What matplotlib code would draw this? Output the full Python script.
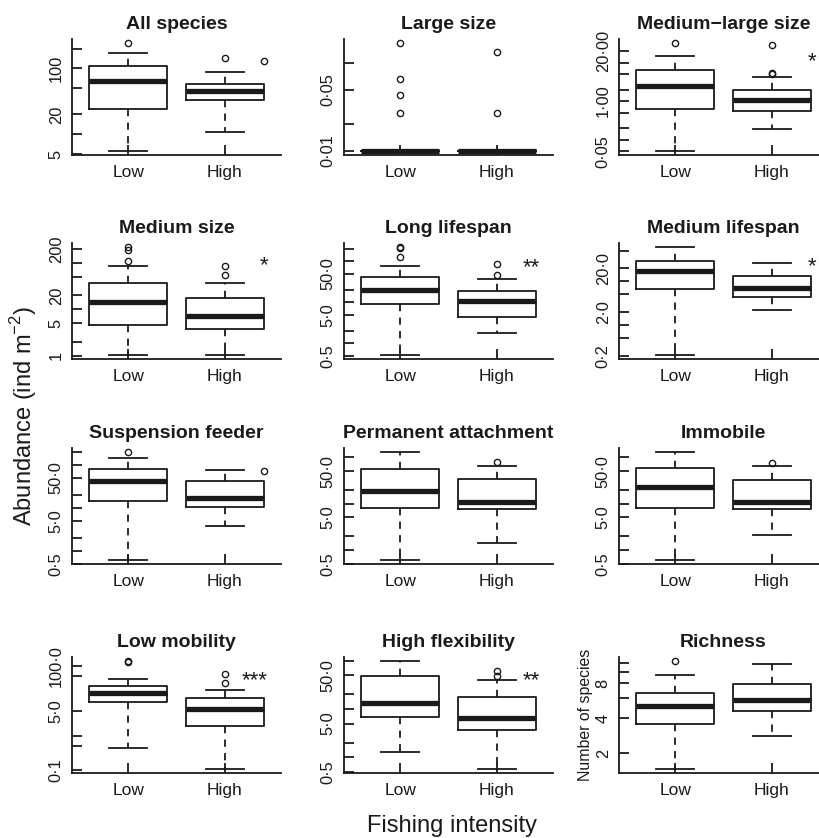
import matplotlib
matplotlib.use('Agg')
import matplotlib.pyplot as plt
import numpy as np

plt.rcParams['font.family'] = ['Liberation Sans', 'DejaVu Sans']

groups = ['Low', 'High']
titles = ['All species', 'Large size', 'Medium\u2212large size',
          'Medium size', 'Long lifespan', 'Medium lifespan',
          'Suspension feeder', 'Permanent attachment', 'Immobile',
          'Low mobility', 'High flexibility', 'Richness']

# five-number summaries: [lower whisker, Q1, median, Q3, upper whisker]
low_stats = [
    [5.6, 24.3, 63.5, 107, 170],
    [0.01, 0.01, 0.01, 0.01, 0.01],
    [0.0515, 0.635, 2.53, 6.54, 15.3],
    [1.05, 4.48, 14.6, 37.2, 86.9],
    [0.53, 9.18, 19.9, 41.6, 76.4],
    [0.21, 6.81, 17.4, 28.3, 59.7],
    [0.62, 14.5, 41.9, 80.7, 142],
    [0.61, 8.05, 18.3, 55.2, 128],
    [0.61, 8.05, 22.7, 58.0, 128],
    [0.444, 9.36, 16.6, 26.8, 41.6],
    [1.30, 6.8, 13.4, 49.2, 96.8],
    [1.47, 3.55, 5.14, 6.67, 9.54],
]
high_stats = [
    [10.6, 32.5, 44.9, 58.6, 86.7],
    [0.01, 0.01, 0.01, 0.01, 0.01],
    [0.186, 0.553, 1.04, 2.0, 4.15],
    [1.05, 3.79, 7.14, 17.9, 36.6],
    [1.75, 4.39, 10.8, 18.5, 37.9],
    [2.2, 4.26, 6.93, 12.9, 26.4],
    [3.77, 10.5, 17.0, 41.1, 73.8],
    [1.39, 7.8, 10.7, 33.1, 66.1],
    [2.09, 7.8, 10.8, 32.6, 64.0],
    [0.112, 1.85, 5.65, 11.9, 20.6],
    [0.585, 3.74, 6.58, 18.0, 40.7],
    [2.82, 4.66, 5.70, 7.9, 11.7],
]
low_fliers = [
    [240], [0.169, 0.0666, 0.0431, 0.0267], [31.8], [110, 193, 217],
    [128, 210, 220], [], [195], [], [], [133, 136], [], [12.4],
]
high_fliers = [
    [146], [0.136, 0.0272], [5.16, 5.3, 28.8], [55.4, 84.1],
    [46.5, 88.5], [], [], [78], [75.4], [33.4, 57.8], [49.2, 60.4], [],
]

yticks = [
    [5, 10, 20, 50, 100, 200],
    [0.01, 0.02, 0.05, 0.1],
    [0.05, 0.1, 0.2, 0.5, 1, 2, 5, 10, 20],
    [1, 2, 5, 10, 20, 50, 100, 200],
    [0.5, 1, 2, 5, 10, 20, 50, 100, 200],
    [0.2, 0.5, 1, 2, 5, 10, 20, 50],
    [0.5, 1, 2, 5, 10, 20, 50, 100, 200],
    [0.5, 1, 2, 5, 10, 20, 50, 100],
    [0.5, 1, 2, 5, 10, 20, 50, 100],
    [0.1, 0.5, 1, 5, 50, 100],
    [0.5, 1, 2, 5, 10, 20, 50, 100],
    [2, 4, 6, 8, 10, 12],
]
yticklabels = [
    ['5', '', '20', '', '100', ''],
    ['0\u00b701', '', '0\u00b705', ''],
    ['0\u00b705', '', '', '', '1\u00b700', '', '', '', '20\u00b700'],
    ['1', '', '5', '', '20', '', '', '200'],
    ['0\u00b75', '', '', '5\u00b70', '', '', '50\u00b70', '', ''],
    ['0\u00b72', '', '', '2\u00b70', '', '', '20\u00b70', ''],
    ['0\u00b75', '', '', '5\u00b70', '', '', '50\u00b70', '', ''],
    ['0\u00b75', '', '', '5\u00b70', '', '', '50\u00b70', ''],
    ['0\u00b75', '', '', '5\u00b70', '', '', '50\u00b70', ''],
    ['0\u00b71', '', '', '5\u00b70', '', '100\u00b70'],
    ['0\u00b75', '', '', '5\u00b70', '', '', '50\u00b70', ''],
    ['2', '4', '', '8', '', ''],
]
signif = ['', '', '*', '*', '**', '*', '', '', '', '***', '**', '']
signif_x = [None, None, 2.41, 2.405, 2.36, 2.41, None, None, None, 2.31, 2.36, None]
signif_y = [None, None, 10.3, 86.9, 69.7, 21.8, None, None, None, 38.9, 38.9, None]
marginal_y = [127, None, None, None, None, None, 71.3, None, None, None, None, None]

W, H = 819, 838
lefts = [72, 344, 619]
tops = [39, 243, 448, 657]
aw, ah = 209, 116

fig = plt.figure(figsize=(W / 100, H / 100), dpi=100)
col = '#1a1a1a'
lw = 1.3

for i in range(12):
    r, c = divmod(i, 3)
    ax = fig.add_axes([lefts[c] / W, 1 - (tops[r] + ah) / H, aw / W, ah / H])
    stats = []
    for g, s, f in zip(groups, [low_stats[i], high_stats[i]], [low_fliers[i], high_fliers[i]]):
        stats.append(dict(label=g, whislo=s[0], q1=s[1], med=s[2], q3=s[3], whishi=s[4], fliers=f))
    ax.bxp(stats, positions=[1, 2], widths=0.8, capwidths=0.4, showfliers=True,
           boxprops=dict(color=col, linewidth=lw),
           whiskerprops=dict(color=col, linewidth=lw, linestyle=(0, (4, 3.5))),
           capprops=dict(color=col, linewidth=lw),
           medianprops=dict(color=col, linewidth=3.8, solid_capstyle='butt'),
           flierprops=dict(marker='o', markerfacecolor='none', markeredgecolor=col,
                           markersize=4.5, markeredgewidth=1.0))
    ax.set_yscale('log')
    vals = np.array(low_stats[i] + high_stats[i] + low_fliers[i] + high_fliers[i], float)
    lo, hi = np.log10(vals.min()), np.log10(vals.max())
    pad = 0.04 * (hi - lo)
    ax.set_ylim(10 ** (lo - pad), 10 ** (hi + pad))
    ax.set_xlim(0.42, 2.58)
    ax.yaxis.set_minor_locator(matplotlib.ticker.NullLocator())
    ax.set_yticks(yticks[i])
    ax.set_yticklabels(yticklabels[i], rotation=90, va='center', fontsize=11.8)
    ax.set_xticks([1, 2])
    ax.set_xticklabels(groups, fontsize=12.5)
    ax.tick_params(axis='both', direction='in', length=7, width=lw, color=col, labelcolor=col)
    ax.tick_params(axis='y', pad=6)
    ax.tick_params(axis='x', pad=7)
    for sp in ['top', 'right']:
        ax.spines[sp].set_visible(False)
    for sp in ['left', 'bottom']:
        ax.spines[sp].set_linewidth(lw)
        ax.spines[sp].set_color(col)
    ax.set_title(titles[i], fontsize=14, fontweight='bold', color=col, pad=7)
    if signif[i]:
        ax.text(signif_x[i], signif_y[i], signif[i], ha='center', va='center',
                fontsize=16, color=col)
    if marginal_y[i] is not None:
        ax.plot([2.405], [marginal_y[i]], marker='o', mfc='none', mec=col, ms=4.5, mew=1.0)
    if i == 11:
        ax.set_ylabel('Number of species', fontsize=11.4, color=col, labelpad=2)

fig.text(24 / W, 1 - 416 / H, 'Abundance (ind m$^{\\mathregular{\u22122}}$)', rotation=90,
         ha='center', va='center', fontsize=17, color=col)
fig.text(452 / W, 1 - 826 / H, 'Fishing intensity', ha='center', va='center', fontsize=17, color=col)

fig.savefig('out.png', dpi=100)
